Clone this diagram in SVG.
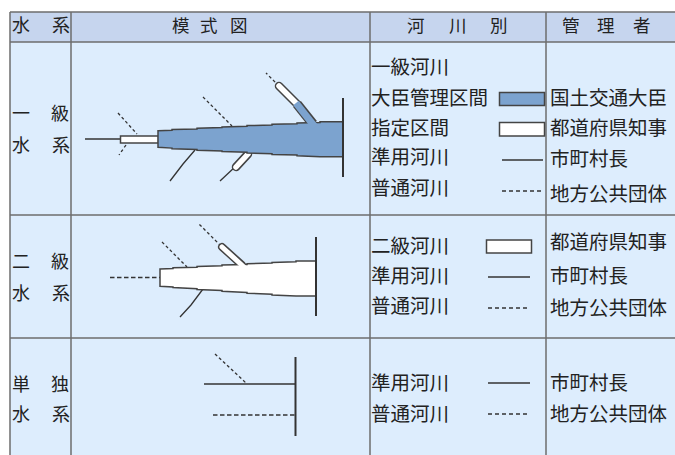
<svg xmlns="http://www.w3.org/2000/svg" width="675" height="455" viewBox="0 0 675 455">
<style>
.t{font-family:"Noto Sans CJK JP","Noto Sans CJK SC",sans-serif;fill:#222}
.h{font-size:17.5px}
.l{font-size:18px}
.g{font-size:19.5px}
.grid{stroke:#6e6e6e;stroke-width:1.5;fill:none}
.ln{stroke:#333;stroke-width:1.3;fill:none}
.ds{stroke:#333;stroke-width:1.3;fill:none;stroke-dasharray:3 2.5}
.dh{stroke:#333;stroke-width:1.3;fill:none;stroke-dasharray:4.5 2.5}
.body1{fill:#7ca3cf;stroke:#444;stroke-width:1.5;stroke-linejoin:miter}
.body2{fill:#fff;stroke:#444;stroke-width:1.5}
</style>
<rect width="675" height="455" fill="#fff"/>
<g id="table">
<rect x="10" y="12" width="670" height="30" fill="#c6d5ee"/>
<rect x="10" y="42" width="670" height="420" fill="#ddedfd"/>
<path class="grid" d="M10 12H680M10 42H680M10 215H680M10 338H680M10 12V460M71 12V460M370 12V460M546 12V460"/>
</g>
<g id="header">
<text class="t l" x="12 52" y="32">水系</text>
<text class="t h" x="172 200 230" y="32">模式図</text>
<text class="t h" x="407 449 490" y="32">河川別</text>
<text class="t h" x="562 597 633" y="32">管理者</text>
</g>
<g id="labels">
<text class="t l" x="12 51" y="120">一級</text>
<text class="t l" x="12 52" y="152">水系</text>
<text class="t l" x="12 51" y="268">二級</text>
<text class="t l" x="12 52" y="300">水系</text>
<text class="t l" x="12 51" y="391">単独</text>
<text class="t l" x="12 52" y="421">水系</text>
</g>
<g id="legend1">
<text class="t g" x="371" y="74">一級河川</text>
<text class="t g" x="371" y="105">大臣管理区間</text>
<text class="t g" x="371" y="135">指定区間</text>
<text class="t g" x="371" y="164">準用河川</text>
<text class="t g" x="371" y="195">普通河川</text>
<rect x="499.5" y="92.5" width="45" height="13" fill="#7ca3cf" stroke="#444" stroke-width="1.5"/>
<rect x="499.5" y="122.5" width="45" height="13.5" fill="#fff" stroke="#444" stroke-width="1.5"/>
<line class="ln" x1="502" y1="160" x2="543" y2="160"/>
<line class="dh" x1="502" y1="191" x2="543" y2="191" style="stroke-dasharray:4 3"/>
<text class="t g" x="550" y="105">国土交通大臣</text>
<text class="t g" x="550" y="135">都道府県知事</text>
<text class="t g" x="550" y="166">市町村長</text>
<text class="t g" x="550" y="201">地方公共団体</text>
</g>
<g id="legend2">
<text class="t g" x="371" y="253">二級河川</text>
<text class="t g" x="371" y="283">準用河川</text>
<text class="t g" x="371" y="313">普通河川</text>
<rect x="486.5" y="240" width="45" height="13" fill="#fff" stroke="#444" stroke-width="1.5"/>
<line class="ln" x1="488" y1="277" x2="530" y2="277"/>
<line class="dh" x1="488" y1="308" x2="530" y2="308" style="stroke-dasharray:4 3"/>
<text class="t g" x="550" y="249">都道府県知事</text>
<text class="t g" x="550" y="283">市町村長</text>
<text class="t g" x="550" y="315">地方公共団体</text>
</g>
<g id="legend3">
<text class="t g" x="371" y="390">準用河川</text>
<text class="t g" x="371" y="421">普通河川</text>
<line class="ln" x1="488" y1="383" x2="530" y2="383"/>
<line class="dh" x1="488" y1="414" x2="530" y2="414" style="stroke-dasharray:4 3"/>
<text class="t g" x="550" y="390">市町村長</text>
<text class="t g" x="550" y="421">地方公共団体</text>
</g>
<g id="diagram1">
<line class="ln" x1="85" y1="139" x2="121" y2="139"/>
<line class="ds" x1="118" y1="113" x2="137" y2="134"/>
<line class="ds" x1="126" y1="145" x2="119" y2="155"/>
<line class="ds" x1="203" y1="97" x2="232" y2="126"/>
<polyline class="ln" points="195,150 183,164 170,181"/>
<line class="ln" x1="236" y1="166" x2="220" y2="181"/>
<line stroke="#444" stroke-width="8.5" x1="248" y1="154" x2="236" y2="167" stroke-linecap="round"/>
<line stroke="#fff" stroke-width="5.5" x1="248" y1="154" x2="236" y2="167" stroke-linecap="round"/>
<line class="ds" x1="279" y1="86" x2="266" y2="73"/>
<line stroke="#444" stroke-width="8.5" x1="297" y1="104" x2="279" y2="86" stroke-linecap="round"/>
<line stroke="#fff" stroke-width="5.5" x1="297" y1="104" x2="279" y2="86" stroke-linecap="round"/>
<line stroke="#444" stroke-width="10" x1="313" y1="124" x2="297" y2="104"/>
<rect x="120.5" y="136" width="38" height="7" fill="#fff" stroke="#444" stroke-width="1.5"/>
<path class="body1" d="M158 130.7L172 130.2V129.5L197 128.9V128.2L222 127.6V126.9L247 126.3V125.6L272 125V124.3L297 123.7V123L320 122.4V121.7H343V156.7H320L297 155.8V155.1L272 154.4V153.7L247 153V152.3L222 151.6V150.9L197 150.2V149.5L172 148.8V148.1L158 147.3Z"/>
<line stroke="#7ca3cf" stroke-width="7" x1="315" y1="127" x2="296" y2="103"/>
<line class="ln" x1="343" y1="98" x2="343" y2="177" style="stroke-width:2"/>
</g>
<g id="diagram2">
<line class="dh" x1="110" y1="277.5" x2="160" y2="277.5"/>
<line class="ds" x1="162" y1="242" x2="187" y2="267"/>
<polyline class="ln" points="203,289 191,305 180,317"/>
<line class="ds" x1="221" y1="246" x2="199" y2="224"/>
<line stroke="#444" stroke-width="8" x1="242" y1="265" x2="222" y2="247" stroke-linecap="round"/>
<path class="body2" d="M160 269L173 268.5V267.8L197 267.2V266.5L222 265.8V265.1L247 264.5V263.8L272 263.1V262.4L296 261.7V261H316V296H296L272 295V294.2L247 293.2V292.4L222 291.3V290.5L197 289.5V288.7L173 287.6V286.9L160 286.2Z"/>
<line stroke="#fff" stroke-width="5" x1="245" y1="268" x2="222" y2="247" stroke-linecap="round"/>
<line class="ln" x1="316" y1="237" x2="316" y2="316" style="stroke-width:2"/>
</g>
<g id="diagram3">
<line class="ln" x1="204" y1="384" x2="295" y2="384"/>
<line class="ds" x1="215" y1="354" x2="246" y2="383"/>
<line class="dh" x1="213" y1="415" x2="295" y2="415"/>
<line class="ln" x1="295.5" y1="357" x2="295.5" y2="436" style="stroke-width:2"/>
</g>
</svg>
